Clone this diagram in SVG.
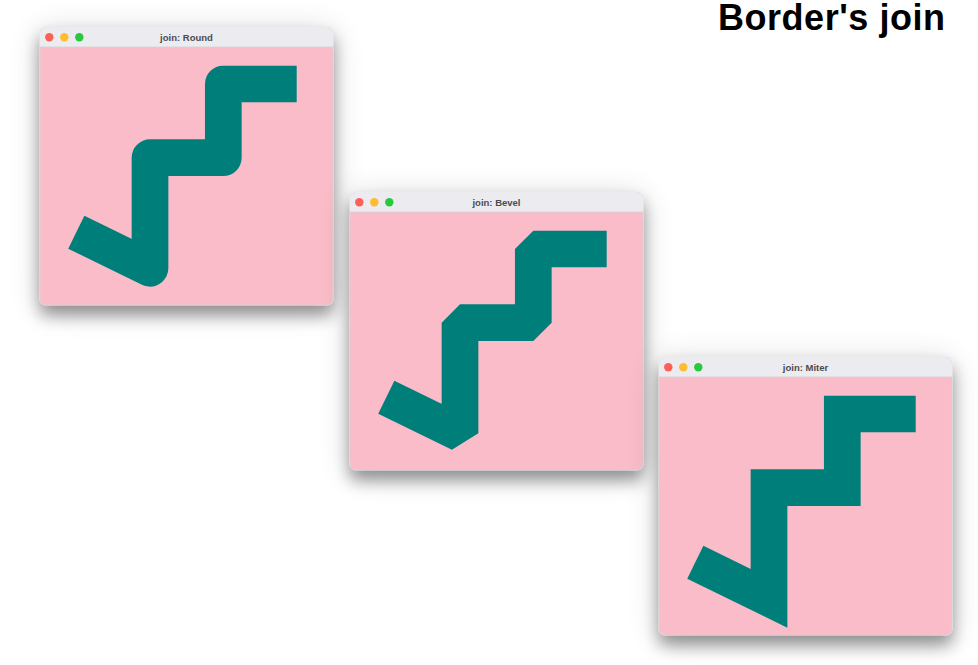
<svg xmlns="http://www.w3.org/2000/svg" width="978" height="665" viewBox="0 0 978 665">
  <defs>
    <filter id="shadow" x="-40%" y="-40%" width="180%" height="190%">
      <feGaussianBlur in="SourceAlpha" stdDeviation="16" result="b1"/>
      <feOffset in="b1" dx="0" dy="4" result="o1"/>
      <feComponentTransfer in="o1" result="g1"><feFuncA type="linear" slope="0.16"/></feComponentTransfer>
      <feGaussianBlur in="SourceAlpha" stdDeviation="8" result="b2"/>
      <feOffset in="b2" dx="0" dy="10" result="o2"/>
      <feComponentTransfer in="o2" result="g2"><feFuncA type="linear" slope="0.38"/></feComponentTransfer>
      <feMerge><feMergeNode in="g1"/><feMergeNode in="g2"/><feMergeNode in="SourceGraphic"/></feMerge>
    </filter>
  </defs>
  <style>
    .win { fill: #F9BCC8; stroke: #D9D4D8; stroke-width: 0.6; }
    .bar { fill: #ECEBEF; }
    .sep { stroke: #D8D2D6; stroke-width: 0.8; }
    .ttl { font-family: "Liberation Sans", Arial, sans-serif; font-weight: bold; font-size: 9.5px; fill: #4B4B4F; text-anchor: middle; }
    .line { fill: none; stroke: #007F7A; stroke-width: 36.7; }
    .red { fill: #FE5F57; }
    .yel { fill: #FEBC2E; }
    .grn { fill: #28C840; }
    .head { font-family: "Liberation Sans", Arial, sans-serif; font-weight: bold; font-size: 36px; fill: #000; }
  </style>
  <rect width="978" height="665" fill="#FFFFFF"/>
  <text class="head" x="718" y="29.5" textLength="227" lengthAdjust="spacing">Border's join</text>

  <g id="win-round" transform="translate(40,27)">
    <g filter="url(#shadow)">
      <rect class="win" x="0" y="0" width="293" height="278" rx="6"/>
    </g>
    <path class="bar" d="M0,20 V6 A6,6 0 0 1 6,0 H287 A6,6 0 0 1 293,6 V20 Z"/>
    <line class="sep" x1="0" y1="20" x2="293" y2="20"/>
    <circle class="red" cx="9.3" cy="10.3" r="4.2"/>
    <circle class="yel" cx="24.3" cy="10.3" r="4.2"/>
    <circle class="grn" cx="39.3" cy="10.3" r="4.2"/>
    <text class="ttl" x="146.5" y="13.5">join: Round</text>
    <polyline class="line" stroke-linejoin="round" points="36.3,205.2 110,241.3 110,130.7 183.3,130.7 183.3,57 256.7,57"/>
  </g>

  <g id="win-bevel" transform="translate(350,192)">
    <g filter="url(#shadow)">
      <rect class="win" x="0" y="0" width="293" height="278" rx="6"/>
    </g>
    <path class="bar" d="M0,20 V6 A6,6 0 0 1 6,0 H287 A6,6 0 0 1 293,6 V20 Z"/>
    <line class="sep" x1="0" y1="20" x2="293" y2="20"/>
    <circle class="red" cx="9.3" cy="10.3" r="4.2"/>
    <circle class="yel" cx="24.3" cy="10.3" r="4.2"/>
    <circle class="grn" cx="39.3" cy="10.3" r="4.2"/>
    <text class="ttl" x="146.5" y="13.5">join: Bevel</text>
    <polyline class="line" stroke-linejoin="bevel" points="36.3,205.2 110,241.3 110,130.7 183.3,130.7 183.3,57 256.7,57"/>
  </g>

  <g id="win-miter" transform="translate(659,357)">
    <g filter="url(#shadow)">
      <rect class="win" x="0" y="0" width="293" height="278" rx="6"/>
    </g>
    <path class="bar" d="M0,20 V6 A6,6 0 0 1 6,0 H287 A6,6 0 0 1 293,6 V20 Z"/>
    <line class="sep" x1="0" y1="20" x2="293" y2="20"/>
    <circle class="red" cx="9.3" cy="10.3" r="4.2"/>
    <circle class="yel" cx="24.3" cy="10.3" r="4.2"/>
    <circle class="grn" cx="39.3" cy="10.3" r="4.2"/>
    <text class="ttl" x="146.5" y="13.5">join: Miter</text>
    <polyline class="line" stroke-linejoin="miter" stroke-miterlimit="4" points="36.3,205.2 110,241.3 110,130.7 183.3,130.7 183.3,57 256.7,57"/>
  </g>
</svg>
